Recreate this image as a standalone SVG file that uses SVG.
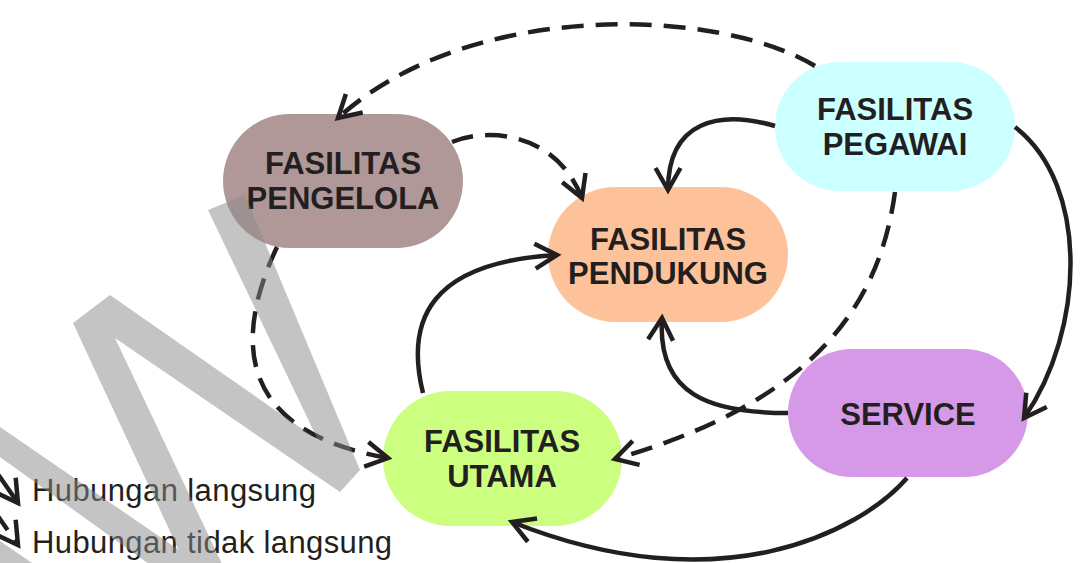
<svg xmlns="http://www.w3.org/2000/svg" width="1081" height="563" viewBox="0 0 1081 563">
<style>
.node text{font-family:"Liberation Sans",Arial,sans-serif;font-weight:bold;font-size:31px;fill:#231f20;text-anchor:middle}
.conn{fill:none;stroke:#231f20;stroke-width:4.5}
.dash{stroke-dasharray:22 12}
.legend{font-family:"Liberation Sans",Arial,sans-serif;font-size:31px;fill:#231f20}
</style>
<defs>
<marker id="arr" markerUnits="userSpaceOnUse" orient="auto" refX="0" refY="0" markerWidth="40" markerHeight="40" overflow="visible">
<path d="M-22,-12.5 L0,0 L-22,12.5" fill="none" stroke="#231f20" stroke-width="4.5" stroke-dasharray="none"/>
</marker>
</defs>
<rect width="1081" height="563" fill="#ffffff"/>
<g id="node-pengelola" class="node">
<rect x="223" y="114" width="240" height="134" rx="67" fill="#b09898"/>
<text x="343" y="174">FASILITAS</text>
<text x="343" y="209">PENGELOLA</text>
</g>
<g id="node-pendukung" class="node">
<rect x="548" y="187" width="240" height="135" rx="67.5" fill="#fec29b"/>
<text x="668" y="250">FASILITAS</text>
<text x="668" y="284">PENDUKUNG</text>
</g>
<g id="node-pegawai" class="node">
<rect x="775" y="62" width="240" height="129" rx="64.5" fill="#ccffff"/>
<text x="895" y="120">FASILITAS</text>
<text x="895" y="155">PEGAWAI</text>
</g>
<g id="node-service" class="node">
<rect x="788" y="349" width="240" height="128" rx="64" fill="#d699e8"/>
<text x="908" y="425">SERVICE</text>
</g>
<g id="node-utama" class="node">
<rect x="383" y="391" width="239" height="135" rx="67.5" fill="#ccff80"/>
<text x="502" y="452">FASILITAS</text>
<text x="502" y="487">UTAMA</text>
</g>
<g id="connectors">
<path class="conn dash" d="M815,66 C720,8 470,-2 338,118" marker-end="url(#arr)"/>
<path class="conn dash" d="M452,142 C485,128 555,130 582,198" marker-end="url(#arr)"/>
<path class="conn" d="M775,126 C720,110 668,120 668,190" marker-end="url(#arr)"/>
<path class="conn" d="M1015,127 C1090,185 1085,330 1024,418" marker-end="url(#arr)"/>
<path class="conn dash" d="M895,192 C880,300 820,400 615,459" marker-end="url(#arr)"/>
<path class="conn" d="M788,413 C710,413 657,395 662,318" marker-end="url(#arr)"/>
<path class="conn" d="M907,478 C860,532 720,605 512,522" marker-end="url(#arr)"/>
<path class="conn" d="M423,393 C405,320 430,262 557,255" marker-end="url(#arr)"/>
<path class="conn dash" d="M277,247 C238,330 228,430 388,458" marker-end="url(#arr)"/>
</g>
<g id="legend">
<path class="conn" d="M-5,470 L18,503" marker-end="url(#arr)"/>
<text class="legend" x="32" y="501" textLength="284">Hubungan langsung</text>
<path class="conn dash" d="M-5,512 L18,545" marker-end="url(#arr)"/>
<text class="legend" x="32" y="553" textLength="360">Hubungan tidak langsung</text>
</g>
<path id="watermark" fill="#898989" fill-opacity="0.5" fill-rule="nonzero" d="M208,210 L245,195 L360,470 L340,492 L115,338 L232,585 L195,585 L73,323 L110,295 L318,440 Z M0,427 L230,585 L178,585 L0,457 Z M0,541 L35,565 L0,565 Z"/>
</svg>
